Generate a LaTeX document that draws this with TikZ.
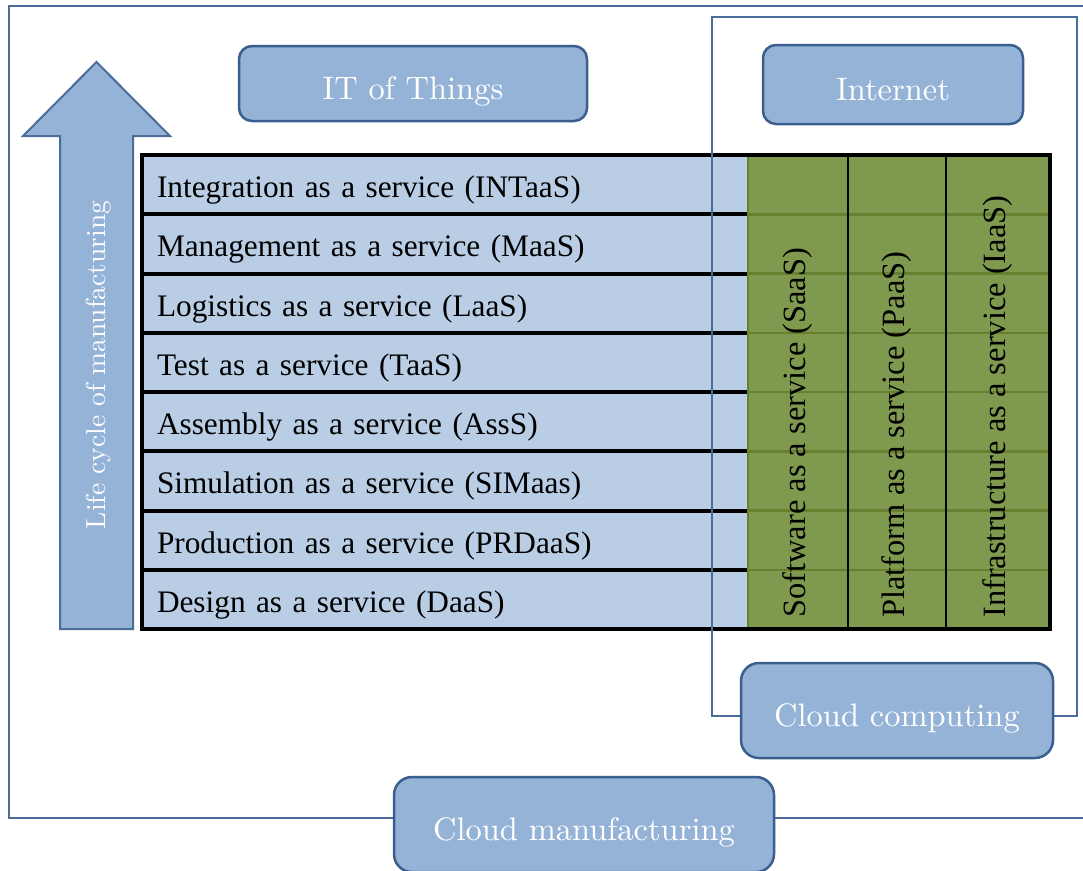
\documentclass[tikz,border=0pt]{standalone}
\usepackage{fontspec}
\newfontfamily\tnr{Liberation Serif}
\newfontfamily\lmten{lmroman10-regular.otf}

\definecolor{framecol}{HTML}{4A6D9A}
\definecolor{boxfill}{HTML}{95B3D7}
\definecolor{boxline}{HTML}{3A5F8E}
\definecolor{rowblue}{HTML}{B9CDE5}
\definecolor{olive}{HTML}{7F9A4E}
\definecolor{darkolive}{HTML}{66802F}

\begin{document}
\begin{tikzpicture}[x=1pt,y=-1pt,
  frame/.style={draw=framecol, line width=2pt, minimum width=0pt, inner sep=0pt, outer sep=0pt, anchor=north west},
  labelbox/.style={draw=boxline, fill=boxfill, line width=2.5pt, rounded corners=13pt,
    text=white, font=\lmten\fontsize{32.5}{38}\selectfont, inner sep=0pt,
    text height=36pt, text depth=4pt},
  rowcell/.style={fill=rowblue, draw=none, anchor=north west, outer sep=0pt,
    minimum width=606pt, minimum height=59.25pt, inner xsep=15pt, inner ysep=0pt,
    text width=576pt, align=left, text height=30pt, text depth=4pt,
    font=\tnr\fontsize{31.3}{36}\selectfont},
  gcol/.style={fill=olive, draw=none, anchor=north west, outer sep=0pt, inner sep=0pt,
    minimum height=474pt},
  gtext/.style={rotate=90, anchor=west, inner sep=0pt, font=\tnr\fontsize{32.5}{38}\selectfont},
  arrowshape/.style={draw=framecol, fill=boxfill, line width=2pt, line join=miter},
  arrowtext/.style={rotate=90, text=white, inner sep=0pt, font=\lmten\fontsize{27.5}{32}\selectfont}
]
\useasboundingbox (0,0) rectangle (1083,870);
\clip (0,0) rectangle (1083,870);
\fill[white] (0,0) rectangle (1083,870);

% outer frame: cloud manufacturing
\node[frame, minimum width=1090pt, minimum height=812pt] (mfgframe) at (9,6) {};

% life-cycle arrow
\draw[arrowshape] (60,629) -- (60,136) -- (23,136) -- (96.5,62) -- (170,136)
  -- (133,136) -- (133,629) -- cycle;
\node[arrowtext] (lifecycle) at (99,365) {Life cycle of manufacturing};

% service rows
\foreach \t [count=\i] in {
  Integration as a service (INTaaS),
  Management as a service (MaaS),
  Logistics as a service (LaaS),
  Test as a service (TaaS),
  Assembly as a service (AssS),
  Simulation as a service (SIMaas),
  Production as a service (PRDaaS),
  Design as a service (DaaS)}
  \node[rowcell] (r\i) at ({142},{155+(\i-1)*59.25}) {\t};

% cloud service columns
\node[gcol, minimum width=100pt] (saas) at (748,155) {};
\node[gcol, minimum width=98pt]  (paas) at (848,155) {};
\node[gcol, minimum width=104pt] (iaas) at (946,155) {};

% faint row lines through the green columns
\foreach \i in {1,...,7}
  \draw[darkolive, line width=2.5pt] (r\i.south east) -- (r\i.south east -| iaas.east);

% black row separators
\foreach \i in {1,...,7}
  \draw[black, line width=4pt] (r\i.south west) -- (r\i.south east);

% column separators
\draw[black, line width=1.8pt] (saas.north east) -- (saas.south east);
\draw[black, line width=1.8pt] (paas.north east) -- (paas.south east);
\draw[darkolive, line width=1.2pt] (saas.north west) -- (saas.south west);

% column labels
\node[gtext] (saast) at ([yshift=11pt]saas.south) {Software as a service (SaaS)};
\node[gtext] (paast) at ([yshift=11pt]paas.south) {Platform as a service (PaaS)};
\node[gtext] (iaast) at ([yshift=11pt]iaas.south) {Infrastructure as a service (IaaS)};

% table border
\draw[black, line width=4.5pt] (r1.north west) rectangle (iaas.south east);

% cloud computing frame
\node[frame, minimum width=365pt, minimum height=699pt] (ccframe) at (712,17) {};

% labels
\node[labelbox, minimum width=348pt, minimum height=75pt] (iot) at (413,83.5) {IT of Things};
\node[labelbox, minimum width=260pt, minimum height=79pt] (internet) at (893,84.5) {Internet};
\node[labelbox, minimum width=312pt, minimum height=95pt, rounded corners=18pt] (cc) at (897,710.5) {Cloud computing};
\node[labelbox, minimum width=380pt, minimum height=95pt, rounded corners=18pt] (cm) at (584,824.5) {Cloud manufacturing};
\end{tikzpicture}
\end{document}
